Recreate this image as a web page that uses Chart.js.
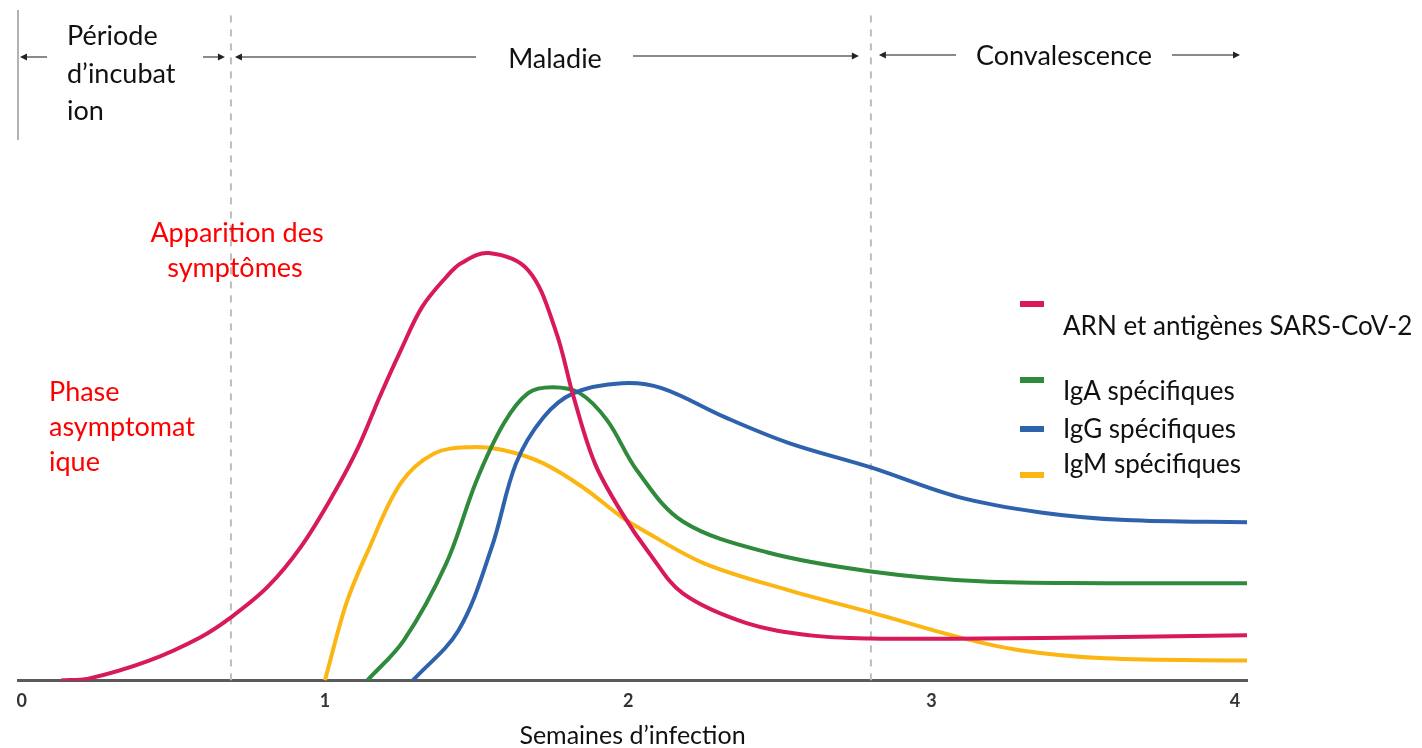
<!DOCTYPE html>
<html>
<head>
<meta charset="utf-8">
<title>Semaines d'infection</title>
<script src="https://cdn.jsdelivr.net/npm/chart.js@4.4.1/dist/chart.umd.min.js"></script>
<style>
    html, body { margin: 0; padding: 0; background: #fff; }
    #wrap { width: 1422px; height: 748px; }
</style>
</head>
<body>
<div id="wrap"><canvas id="chart" width="1422" height="748"></canvas></div>
<script>
// weeks of infection (x) and relative level (y, 0..150)
var weekTicks = [0, 1, 2, 3, 4];

var arnWeeks  = [0.13, 0.22, 0.42, 0.59, 0.69, 0.81, 0.92, 1.03, 1.11, 1.18, 1.25, 1.32, 1.40, 1.45, 1.54, 1.67, 1.76, 1.82, 1.89, 1.98, 2.07, 2.18, 2.39, 2.60, 2.80, 3.16, 3.57, 4.04];
var arnLevel  = [0, 0.4, 4.4, 9.6, 14.0, 20.7, 29.6, 41.6, 51.8, 62.9, 73.3, 82.9, 89.6, 92.7, 94.9, 91.1, 77.8, 62.9, 48.2, 37.1, 28.2, 19.3, 12.7, 10.0, 9.3, 9.3, 9.6, 10.0];

var igaWeeks  = [1.14, 1.26, 1.40, 1.50, 1.59, 1.67, 1.75, 1.84, 1.93, 2.03, 2.18, 2.46, 2.80, 3.16, 3.57, 4.04];
var igaLevel  = [0, 8.9, 26.0, 44.4, 57.1, 63.8, 65.1, 63.8, 57.8, 46.5, 35.3, 28.4, 24.2, 22.0, 21.6, 21.6];

var iggWeeks  = [1.29, 1.44, 1.55, 1.63, 1.72, 1.82, 1.98, 2.11, 2.32, 2.53, 2.80, 3.09, 3.36, 3.64, 4.04];
var iggLevel  = [0, 11.1, 29.6, 48.2, 58.4, 63.8, 66.0, 64.9, 58.4, 52.7, 47.3, 40.7, 37.3, 35.6, 35.1];

var igmWeeks  = [1.00, 1.07, 1.14, 1.25, 1.36, 1.48, 1.59, 1.72, 1.85, 1.98, 2.05, 2.25, 2.53, 2.80, 3.09, 3.29, 3.57, 4.04];
var igmLevel  = [0, 17.0, 28.5, 43.8, 50.4, 51.8, 51.1, 48.2, 42.9, 36.2, 33.3, 26.0, 20.0, 15.1, 9.6, 6.7, 4.9, 4.4];

var seriesNames  = ["ARN et antigènes SARS-CoV-2", "IgA spécifiques", "IgG spécifiques", "IgM spécifiques"];
var seriesColors = ["#d8195a", "#2f8a3c", "#2f62ad", "#fbb614"];

// phase boundaries (weeks)
var phaseBounds = [0.69, 2.80];

var FONT = "Lato, 'Open Sans', sans-serif";

function toPoints (xs, ys) {
    return xs.map(function (x, i) { return { x: x, y: ys[i] }; });
}

function curve (index, xs, ys, order) {
    return {
        label: seriesNames[index],
        data: toPoints(xs, ys),
        borderColor: seriesColors[index],
        borderWidth: 4,
        pointRadius: 0,
        tension: 0.35,
        fill: false,
        order: order
    };
}

function boundary (x) {
    return {
        label: "",
        data: [{ x: x, y: 0 }, { x: x, y: 148 }],
        borderColor: "#bdbdbd",
        borderWidth: 2,
        borderDash: [7, 7],
        pointRadius: 0,
        order: 10
    };
}

// arrows, phase names, red notes and the legend
var decorations = {
    id: "decorations",
    beforeDatasetsDraw: function (chart) {
        var ctx = chart.ctx;
        ctx.save();
        // white box behind "Apparition des symptômes"
        ctx.fillStyle = "#fff";
        ctx.fillRect(95, 198, 245, 98);
        ctx.restore();
    },
    afterDatasetsDraw: function (chart) {
        var ctx = chart.ctx,
            x = chart.scales.x,
            left = chart.chartArea.left;

        ctx.save();

        // left edge line
        ctx.strokeStyle = "#9a9a9a";
        ctx.lineWidth = 1.5;
        ctx.beginPath();
        ctx.moveTo(left, 10);
        ctx.lineTo(left, 140);
        ctx.stroke();

        function arrow (x1, x2, yy, head) {
            ctx.strokeStyle = "#8a8a8a";
            ctx.lineWidth = 2;
            ctx.beginPath();
            ctx.moveTo(x1, yy);
            ctx.lineTo(x2, yy);
            ctx.stroke();
            ctx.fillStyle = "#222";
            var d = head === "left" ? -1 : 1,
                hx = head === "left" ? x1 : x2;
            ctx.beginPath();
            ctx.moveTo(hx + d * 2, yy);
            ctx.lineTo(hx - d * 5, yy - 3.5);
            ctx.lineTo(hx - d * 5, yy + 3.5);
            ctx.closePath();
            ctx.fill();
        }

        var b1 = x.getPixelForValue(phaseBounds[0]),
            b2 = x.getPixelForValue(phaseBounds[1]);

        arrow(22, 47, 57, "left");
        arrow(203, b1 - 8, 57, "right");
        arrow(b1 + 6, 476, 57, "left");
        arrow(633, b2 - 14, 56, "right");
        arrow(b2 + 10, 956, 55, "left");
        arrow(1172, 1238, 55, "right");

        ctx.fillStyle = "#111";
        ctx.font = "27px " + FONT;
        ctx.textBaseline = "middle";
        ctx.textAlign = "left";
        ctx.fillText("Période", 67, 36);
        ctx.fillText("d’incubat", 67, 74);
        ctx.fillText("ion", 67, 111);
        ctx.textAlign = "center";
        ctx.fillText("Maladie", 555, 59);
        ctx.fillText("Convalescence", 1064, 56);

        // red notes
        ctx.fillStyle = "#ff0000";
        ctx.fillText("Apparition des", 237, 233);
        ctx.fillText("symptômes", 235, 268);
        ctx.textAlign = "left";
        ctx.fillText("Phase", 49, 392);
        ctx.fillText("asymptomat", 49, 427);
        ctx.fillText("ique", 49, 462);

        // legend
        var barY = [304, 380, 429, 475],
            textY = [327, 392, 430, 465];
        ctx.font = "26px " + FONT;
        seriesNames.forEach(function (name, i) {
            ctx.fillStyle = seriesColors[i];
            ctx.fillRect(1020, barY[i] - 3, 24, 6);
            ctx.fillStyle = "#111";
            ctx.fillText(name, 1063, textY[i]);
        });

        ctx.restore();
    }
};

new Chart(document.getElementById("chart"), {
    type: "line",
    data: {
        datasets: [
            curve(0, arnWeeks, arnLevel, 1),
            curve(1, igaWeeks, igaLevel, 3),
            curve(2, iggWeeks, iggLevel, 2),
            curve(3, igmWeeks, igmLevel, 4),
            boundary(phaseBounds[0]),
            boundary(phaseBounds[1])
        ]
    },
    options: {
        responsive: false,
        animation: false,
        layout: { padding: { left: 18, right: 175, top: 5, bottom: 0 } },
        plugins: {
            legend: { display: false },
            tooltip: { enabled: false }
        },
        scales: {
            x: {
                type: "linear",
                min: -0.012,
                max: 4.04,
                afterBuildTicks: function (scale) {
                    scale.ticks = weekTicks.map(function (v) { return { value: v }; });
                },
                grid: { display: false, drawTicks: false },
                border: { display: true, color: "#5a5a5a", width: 3 },
                ticks: {
                    padding: 10,
                    color: "#333",
                    font: { family: FONT, size: 18, weight: "bold" },
                    callback: function (v) { return String(v); }
                },
                title: {
                    display: true,
                    text: "Semaines d’infection",
                    color: "#111",
                    font: { family: FONT, size: 25, lineHeight: 1 },
                    padding: { top: 1, bottom: 0 }
                }
            },
            y: {
                display: false,
                min: 0,
                max: 150
            }
        }
    },
    plugins: [decorations]
});
</script>
</body>
</html>
